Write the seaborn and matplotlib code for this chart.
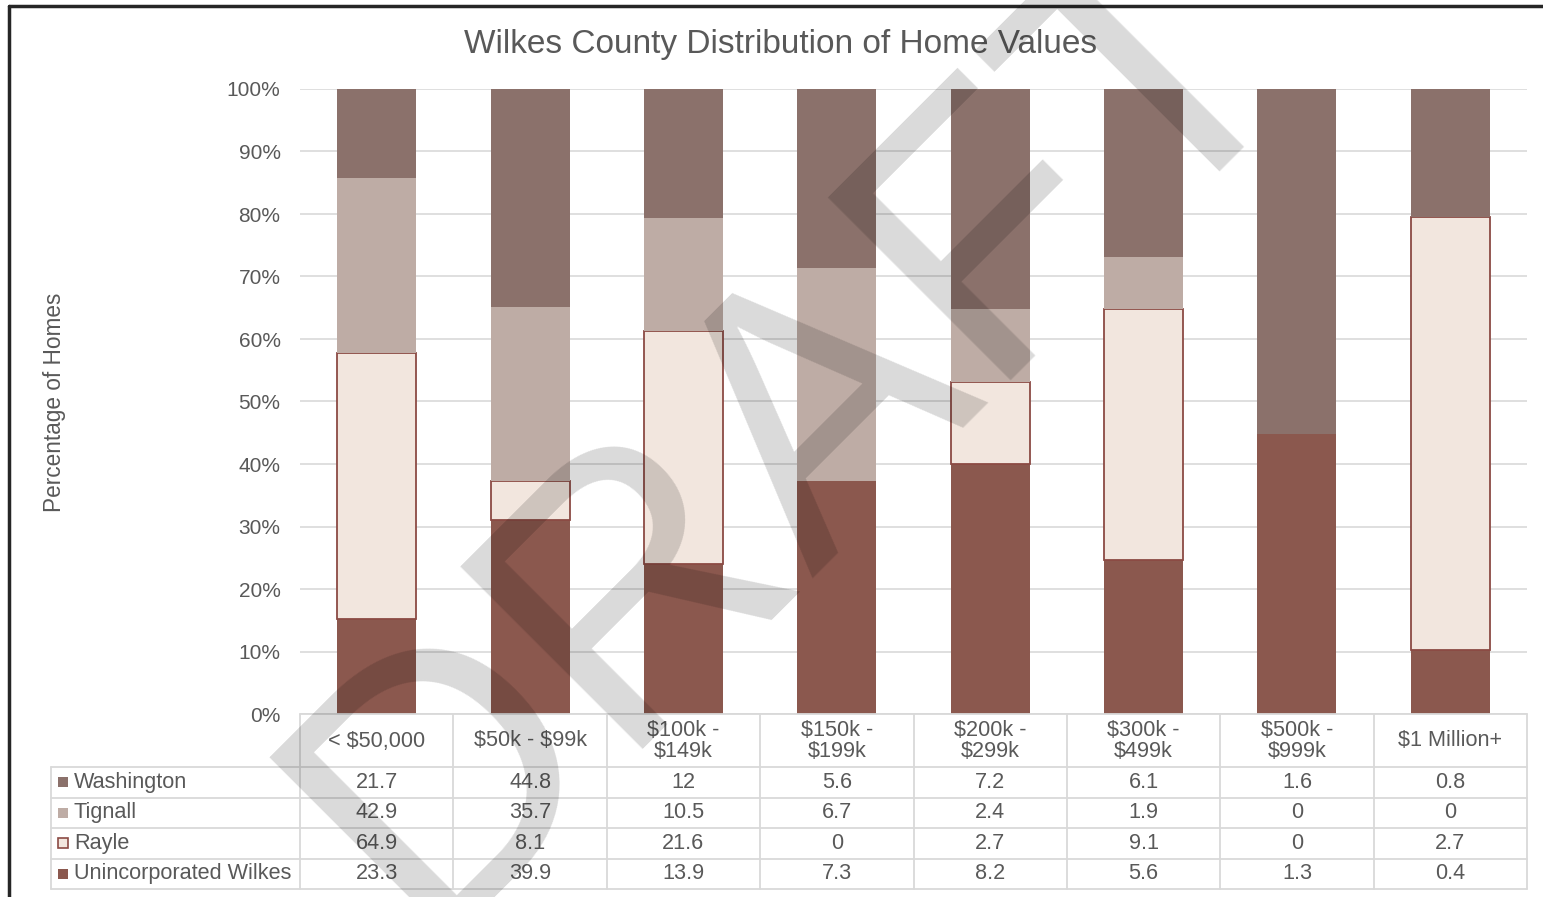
import numpy as np
import pandas as pd
import matplotlib
matplotlib.use("Agg")
import matplotlib.pyplot as plt
import seaborn as sns
from matplotlib.lines import Line2D

# ---------------- data ----------------
categories = ["< $50,000", "$50k - $99k", "$100k -\n$149k", "$150k -\n$199k",
              "$200k -\n$299k", "$300k -\n$499k", "$500k -\n$999k", "$1 Million+"]
washington = [21.7, 44.8, 12, 5.6, 7.2, 6.1, 1.6, 0.8]
tignall = [42.9, 35.7, 10.5, 6.7, 2.4, 1.9, 0, 0]
rayle = [64.9, 8.1, 21.6, 0, 2.7, 9.1, 0, 2.7]
unincorporated = [23.3, 39.9, 13.9, 7.3, 8.2, 5.6, 1.3, 0.4]
series_names = ["Washington", "Tignall", "Rayle", "Unincorporated Wilkes"]
y_ticks = [0, 10, 20, 30, 40, 50, 60, 70, 80, 90, 100]
title = "Wilkes County Distribution of Home Values"
y_label = "Percentage of Homes"
watermark = "DRAFT"

colors = {"Washington": "#8B716B", "Tignall": "#BEACA5",
          "Rayle": "#F2E6DE", "Unincorporated Wilkes": "#8B584E"}
rayle_edge = "#8B4A44"
text_col = "#595959"
grid_col = "#D9D9D9"

sns.set_theme(style="white")
plt.rcParams["font.family"] = ["Liberation Sans", "DejaVu Sans"]

df = pd.DataFrame({"Washington": washington, "Tignall": tignall,
                   "Rayle": rayle, "Unincorporated Wilkes": unincorporated},
                  index=categories)
pct = df.div(df.sum(axis=1), axis=0) * 100

W, H = 1543, 897
fig = plt.figure(figsize=(W / 100, H / 100), dpi=100)
fig.patch.set_facecolor("white")

ax = fig.add_axes([300 / W, 1 - 714 / H, 1227 / W, 625 / H])

stack_order = ["Unincorporated Wilkes", "Rayle", "Tignall", "Washington"]
bottom = np.zeros(len(categories))
for name in stack_order:
    vals = pct[name].values
    if name == "Rayle":
        sns.barplot(x=categories, y=vals, order=categories, bottom=bottom,
                    color=colors[name], saturation=1, width=0.515,
                    errorbar=None, edgecolor=rayle_edge, linewidth=1.3, ax=ax)
        for patch, v in zip(ax.containers[-1], vals):
            if v == 0:
                patch.set_linewidth(0)
    else:
        sns.barplot(x=categories, y=vals, order=categories, bottom=bottom,
                    color=colors[name], saturation=1, width=0.515,
                    errorbar=None, linewidth=0, ax=ax)
    bottom = bottom + vals

ax.set_xlim(-0.5, len(categories) - 0.5)
ax.set_ylim(0, 100)
ax.set_yticks(y_ticks)
ax.set_yticklabels([f"{t}%" for t in y_ticks])
ax.set_xticks([])
ax.set_xlabel("")
ax.set_ylabel("")
ax.yaxis.grid(True, color=grid_col, linewidth=1.2)
ax.set_axisbelow(True)
for s in ax.spines.values():
    s.set_visible(False)
ax.tick_params(axis="y", length=0, pad=14, labelsize=15, labelcolor=text_col)

# title & y label
fig.text(781 / W, 1 - 44 / H, title, ha="center", va="center",
         fontsize=24, color=text_col)
fig.text(55 / W, 1 - 402 / H, y_label, ha="center", va="center",
         rotation=90, fontsize=16.3, color=text_col)

# ---------------- data table ----------------
col_w = 1227 / len(categories)
x_left = -0.5 - (300 - 51) / col_w
tax = fig.add_axes([51 / W, 1 - 889 / H, (1527 - 51) / W, 175 / H])
tax.set_xlim(x_left, len(categories) - 0.5)
tax.set_ylim(175, 0)
tax.axis("off")

row_edges = [0, 53, 83.5, 114, 144.5, 175]
lkw = dict(color=grid_col, linewidth=1.3, clip_on=False)
tax.plot([-0.5, len(categories) - 0.5], [0, 0], **lkw)
for yb in row_edges[1:]:
    tax.plot([x_left, len(categories) - 0.5], [yb, yb], **lkw)
for k in range(len(categories) + 1):
    tax.plot([-0.5 + k, -0.5 + k], [0, 175], **lkw)
tax.plot([x_left, x_left], [53, 175], **lkw)

fs_tab = 15.6
for i, c in enumerate(categories):
    tax.text(i, 27, c, ha="center", va="center", fontsize=fs_tab,
             color=text_col, linespacing=1.0, parse_math=False)

table_rows = {"Washington": washington, "Tignall": tignall,
              "Rayle": rayle, "Unincorporated Wilkes": unincorporated}
for r, name in enumerate(series_names):
    yc = (row_edges[r + 1] + row_edges[r + 2]) / 2
    if name == "Rayle":
        tax.plot([x_left + 12 / col_w], [yc], marker="s", markersize=7,
                 markerfacecolor=colors[name], markeredgecolor=rayle_edge,
                 markeredgewidth=1.2, clip_on=False)
    else:
        tax.plot([x_left + 12 / col_w], [yc], marker="s", markersize=7,
                 markerfacecolor=colors[name], markeredgewidth=0, clip_on=False)
    tax.text(x_left + 23 / col_w, yc, name, ha="left", va="center",
             fontsize=fs_tab, color=text_col)
    for i, v in enumerate(table_rows[name]):
        tax.text(i, yc, f"{v:g}", ha="center", va="center", fontsize=fs_tab,
                 color=text_col)

# ---------------- frame ----------------
fig.add_artist(Line2D([9 / W, 1], [1 - 6 / H, 1 - 6 / H], color="#262626",
                      linewidth=2.5, transform=fig.transFigure))
fig.add_artist(Line2D([9 / W, 9 / W], [0, 1 - 6 / H], color="#262626",
                      linewidth=2.5, transform=fig.transFigure))

# ---------------- watermark ----------------
fig.text(795 / W, 1 - 430 / H, watermark, rotation=45, rotation_mode="anchor",
         ha="center", va="center", fontsize=270, color="black", alpha=0.15,
         zorder=100)

fig.savefig("out.png", dpi=100)
